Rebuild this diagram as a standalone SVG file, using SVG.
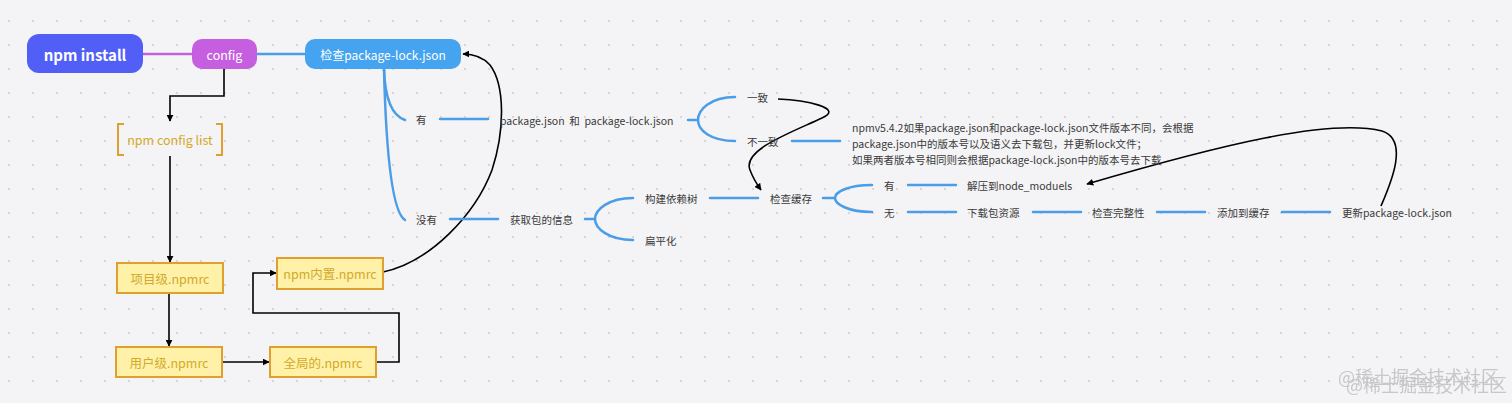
<svg xmlns="http://www.w3.org/2000/svg" width="1512" height="403" viewBox="0 0 1512 403">
<defs>
<pattern id="dots" x="9" y="21" width="24" height="24" patternUnits="userSpaceOnUse">
<circle cx="0" cy="0" r="0.9" fill="#c9c9cc"/>
<circle cx="24" cy="0" r="0.9" fill="#c9c9cc"/>
<circle cx="0" cy="24" r="0.9" fill="#c9c9cc"/>
<circle cx="24" cy="24" r="0.9" fill="#c9c9cc"/>
</pattern>
<marker id="ah" viewBox="0 0 10 10" refX="9" refY="5" markerWidth="7" markerHeight="7" orient="auto" markerUnits="userSpaceOnUse">
<path d="M0,0 L10,5 L0,10 z" fill="#000"/>
</marker>
<filter id="dbl" x="-5%" y="-50%" width="115%" height="200%">
<feOffset in="SourceGraphic" dx="8" dy="8" result="o"/>
<feMerge><feMergeNode in="o"/><feMergeNode in="SourceGraphic"/></feMerge>
</filter>
<style>
text{font-family:"Noto Sans CJK SC","Noto Sans",sans-serif;dominant-baseline:central;}
.m{font-size:10.5px;fill:#3a3a3a;}
.blue{stroke:#4a9de6;stroke-width:2.5;fill:none;stroke-linecap:round;}
.blk{stroke:#000;stroke-width:1.6;fill:none;}
.box{fill:#fff1a8;stroke:#e0a030;stroke-width:2;}
.bt{font-size:12.5px;fill:#d2a92a;text-anchor:middle;}
</style>
</defs>
<rect width="1512" height="403" fill="#f4f4f6"/>
<rect width="1512" height="403" fill="url(#dots)"/>

<g id="connectors">
<line x1="143" y1="54" x2="192" y2="54" stroke="#c65fe0" stroke-width="2.5"/>
<line x1="257" y1="54" x2="305" y2="54" stroke="#4a9de6" stroke-width="2.5"/>
<path class="blk" d="M224,69 L224,96 L170,96 L170,121" marker-end="url(#ah)"/>
<path class="blk" d="M170,156 L170,262" marker-end="url(#ah)"/>
<path class="blk" d="M169,293 L169,346" marker-end="url(#ah)"/>
<path class="blk" d="M222,362 L269,362" marker-end="url(#ah)"/>
<path class="blk" d="M376,362 L399,362 L399,313 L253,313 L253,273 L276,273" marker-end="url(#ah)"/>
<path class="blk" d="M383,272 C430,262 475,215 492,170 C505,130 505,85 490,65 C482,56 473,54 463,54" marker-end="url(#ah)"/>
<path class="blk" d="M778,99 C805,100 845,108 822,118 C790,133 742,150 750,170 C753,178 756,183 761,190" marker-end="url(#ah)"/>
<path class="blk" d="M1381,206 C1390,185 1410,140 1382,131 C1330,118 1220,145 1087,184" marker-end="url(#ah)"/>
<path class="blue" d="M384,69 C385,100 393,116 405,120"/>
<path class="blue" d="M384,69 C386,150 392,212 405,220"/>
<line class="blue" x1="440" y1="119" x2="488" y2="119"/>
<line class="blue" x1="450" y1="219" x2="498" y2="219"/>
<path class="blue" d="M688,120 L698,120 M735,97 C710,97 698,110 698,120 C698,130 710,141 735,141"/>
<line class="blue" x1="792" y1="141" x2="840" y2="141"/>
<path class="blue" d="M585,219 L595,219 M633,198 C608,198 595,210 595,219 C595,228 608,240 633,240"/>
<line class="blue" x1="710" y1="198" x2="758" y2="198"/>
<path class="blue" d="M823,198 L835,198 M872,185 C848,185 835,192 835,198 C835,204 848,212 872,212"/>
<line class="blue" x1="908" y1="185" x2="956" y2="185"/>
<line class="blue" x1="908" y1="212" x2="956" y2="212"/>
<line class="blue" x1="1033" y1="212" x2="1081" y2="212"/>
<line class="blue" x1="1157" y1="212" x2="1205" y2="212"/>
<line class="blue" x1="1282" y1="212" x2="1330" y2="212"/>
</g>

<g id="npm-install">
<rect x="27" y="34" width="116" height="39" rx="12" fill="#515ff7"/>
<text x="85" y="54" font-size="15" font-weight="bold" fill="#fff" text-anchor="middle">npm install</text>
</g>
<g id="config">
<rect x="192" y="39" width="65" height="30" rx="10" fill="#c55fe0"/>
<text x="224.5" y="54" font-size="12.5" fill="#fff" text-anchor="middle">config</text>
</g>
<g id="check-lock">
<rect x="305" y="39" width="156" height="30" rx="10" fill="#45a3ef"/>
<text x="383" y="54" font-size="12" fill="#fff" text-anchor="middle">检查package-lock.json</text>
</g>
<g id="npm-config-list">
<path d="M124,124 L118,124 L118,155 L124,155 M216,124 L222,124 L222,155 L216,155" fill="none" stroke="#e0a030" stroke-width="2"/>
<text class="bt" x="170" y="139">npm config list</text>
</g>
<g id="project-npmrc">
<rect class="box" x="117" y="263" width="106" height="30"/>
<text class="bt" x="170" y="278">项目级.npmrc</text>
</g>
<g id="user-npmrc">
<rect class="box" x="116" y="347" width="106" height="30"/>
<text class="bt" x="169" y="362">用户级.npmrc</text>
</g>
<g id="global-npmrc">
<rect class="box" x="270" y="347" width="106" height="30"/>
<text class="bt" x="323" y="362">全局的.npmrc</text>
</g>
<g id="builtin-npmrc">
<rect class="box" x="277" y="258" width="106" height="31"/>
<text class="bt" x="330" y="273">npm内置.npmrc</text>
</g>

<g id="mm-you"><text class="m" x="416" y="119">有</text></g>
<g id="mm-meiyou"><text class="m" x="416" y="219">没有</text></g>
<g id="mm-compare"><text class="m" x="500" y="120" xml:space="preserve">package.json  和  package-lock.json</text></g>
<g id="mm-yizhi"><text class="m" x="747" y="97">一致</text></g>
<g id="mm-buyizhi"><text class="m" x="747" y="141">不一致</text></g>
<g id="mm-note">
<text class="m" x="852" y="127">npmv5.4.2如果package.json和package-lock.json文件版本不同，会根据</text>
<text class="m" x="852" y="143">package.json中的版本号以及语义去下载包，并更新lock文件；</text>
<text class="m" x="852" y="159">如果两者版本号相同则会根据package-lock.json中的版本号去下载</text>
</g>
<g id="mm-info"><text class="m" x="510" y="219">获取包的信息</text></g>
<g id="mm-tree"><text class="m" x="645" y="198">构建依赖树</text></g>
<g id="mm-flat"><text class="m" x="645" y="240">扁平化</text></g>
<g id="mm-cache"><text class="m" x="770" y="198">检查缓存</text></g>
<g id="mm-you2"><text class="m" x="884" y="185">有</text></g>
<g id="mm-wu"><text class="m" x="884" y="212">无</text></g>
<g id="mm-unzip"><text class="m" x="967" y="185">解压到node_moduels</text></g>
<g id="mm-download"><text class="m" x="967" y="212">下载包资源</text></g>
<g id="mm-integrity"><text class="m" x="1092" y="212">检查完整性</text></g>
<g id="mm-addcache"><text class="m" x="1217" y="212">添加到缓存</text></g>
<g id="mm-update"><text class="m" x="1342" y="212">更新package-lock.json</text></g>

<g id="watermark" filter="url(#dbl)" opacity="0.75">
<text x="1338" y="376" font-size="18" fill="#b8b8bc">@稀土掘金技术社区</text>
</g>
</svg>
